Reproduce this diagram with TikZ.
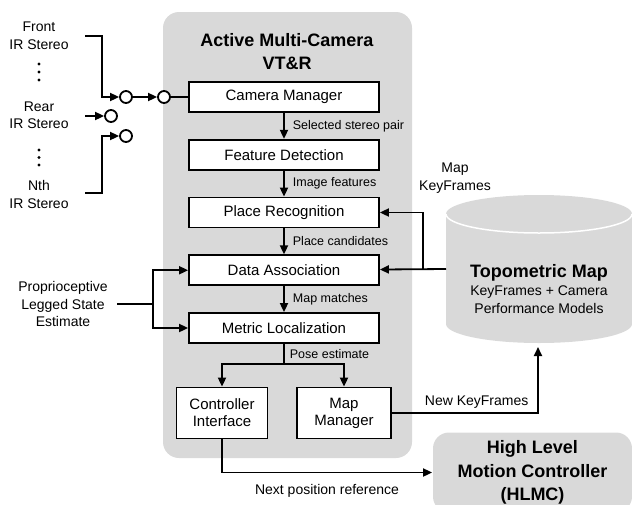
\documentclass[tikz,border=0pt]{standalone}
\usepackage{fontspec}
\setmainfont{Liberation Sans}
\usetikzlibrary{arrows.meta}

\definecolor{panelgray}{gray}{0.85}

\begin{document}
\begin{tikzpicture}[
                        x=1pt, y=-1pt,
                        node distance=57.75pt,
                        line width=1.8pt,
                        >={Triangle[length=9pt,width=8pt]},
                        block/.style={rectangle, draw, fill=white, minimum width=190pt, minimum height=30pt, inner sep=0pt, font=\fontsize{15}{17}\selectfont},
                        smallblock/.style={block, minimum width=92pt, minimum height=51pt, align=center},
                        lbl/.style={inner sep=0pt, font=\fontsize{12.5}{15}\selectfont},
                        txt/.style={inner sep=0pt, align=center, font=\fontsize{14}{17.5}\selectfont},
                        heading/.style={inner sep=0pt, align=center, font=\fontsize{18}{23.5}\selectfont\bfseries},
                        switch/.style={circle, draw, fill=white, minimum size=12pt, inner sep=0pt}
                    ]
                    \clip (0,0) rectangle (632,504);
                    % Backgrounds
                    \fill [panelgray, rounded corners=16pt] (163,12) rectangle (412,458);
                    \fill [panelgray] (446,214) -- (446,324) arc [start angle=180, end angle=0, x radius=93, y radius=19]
                        -- (632,214) arc [start angle=0, end angle=-180, x radius=93, y radius=19] -- cycle;
                    \draw [white, line width=1.5pt] (446,214) arc [start angle=180, end angle=0, x radius=93, y radius=19];

                    % Blocks
                    \node [heading] (vtr) at (287,51.5) {Active Multi-Camera\\VT\&R};
                    \node [block] (cammgr) at (284,97) {Camera Manager};
                    \node [block, below of=cammgr] (featdet) {Feature Detection};
                    \node [block, below of=featdet] (placerec) {Place Recognition};
                    \node [block, below of=placerec] (dataassoc) {Data Association};
                    \node [block, below of=dataassoc] (metricloc) {Metric Localization};
                    \node [smallblock, minimum width=91pt] (ctrlif) at (222,413) {Controller\\Interface};
                    \node [smallblock, minimum width=94pt] (mapmgr) at (344,413) {Map\\Manager};
                    \node [heading, fill=panelgray, rounded corners=16pt, minimum width=199pt, minimum height=80pt] (hlmc) at (532.5,472.5) {High Level\\Motion Controller\\(HLMC)};
                    \node [txt] (topomap) at (539,289) {{\fontsize{18}{20}\selectfont\bfseries Topometric Map}\\[1pt]KeyFrames + Camera\\Performance Models};
                    \node [txt, font=\fontsize{14}{18}\selectfont] (mapkf) at (455,178) {Map\\KeyFrames};
                    \node [txt] (prop) at (63,304) {Proprioceptive\\Legged State\\Estimate};

                    % Cameras
                    \node [txt, font=\fontsize{14}{18}\selectfont] (front) at (39,36) {Front\\IR Stereo};
                    \node [txt, font=\fontsize{14}{17}\selectfont] (rear) at (39,115.5) {Rear\\IR Stereo};
                    \node [txt, font=\fontsize{14}{18}\selectfont] (nth) at (39,194) {Nth\\IR Stereo};
                    \foreach \y in {64,72,80,150,157.5,165}
                        \fill (39,\y) circle (1.7pt);
                    \node [switch] (swfront) at (126,97) {};
                    \node [switch] (swrear) at (111,116) {};
                    \node [switch] (swnth) at (126,136) {};
                    \node [switch] (swout) at (164,97) {};

                    % Free ends
                    \coordinate (frontout) at (85,36);
                    \coordinate (rearout) at (85,116);
                    \coordinate (nthout) at (85,193);
                    \coordinate (propout) at (117,304);
                    \coordinate (propsplit) at (153,304);
                    \coordinate (mapout) at (446,269);
                    \coordinate (mapsplit) at (423,269);
                    \coordinate (mapin) at (538,347);

                    % Connections
                    \draw [->] (frontout) -- ++(17,0) |- (swfront);
                    \draw [->] (rearout) -- (swrear);
                    \draw [->] (nthout) -- ++(17,0) |- (swnth);
                    \draw [->] (swfront) -- (swout);
                    \draw (swout) -- (cammgr);
                    \draw [->] (cammgr) -- (featdet) node [lbl, midway, right=8pt] {Selected stereo pair};
                    \draw [->] (featdet) -- (placerec) node [lbl, midway, right=8pt] {Image features};
                    \draw [->] (placerec) -- (dataassoc) node [lbl, midway, right=8pt] {Place candidates};
                    \draw [->] (dataassoc) -- (metricloc) node [lbl, midway, right=8pt] {Map matches};
                    \draw (metricloc.south) -- ++(0,20) coordinate (posesplit) node [lbl, midway, right=5pt] {Pose estimate};
                    \draw [->] (posesplit) -| (ctrlif);
                    \draw [->] (posesplit) -| (mapmgr);
                    \draw [->] (mapmgr) -| (mapin) node [txt, pos=0.29, above=4pt] {New KeyFrames};
                    \draw [->] (ctrlif) |- (hlmc) node [txt, pos=0.75, below=11pt] {Next position reference};
                    \draw [->] (mapout) -- (dataassoc);
                    \draw [->] (mapsplit) |- (placerec);
                    \draw (propout) -- (propsplit);
                    \draw [->] (propsplit) |- (dataassoc);
                    \draw [->] (propsplit) |- (metricloc);
                \end{tikzpicture}
\end{document}
